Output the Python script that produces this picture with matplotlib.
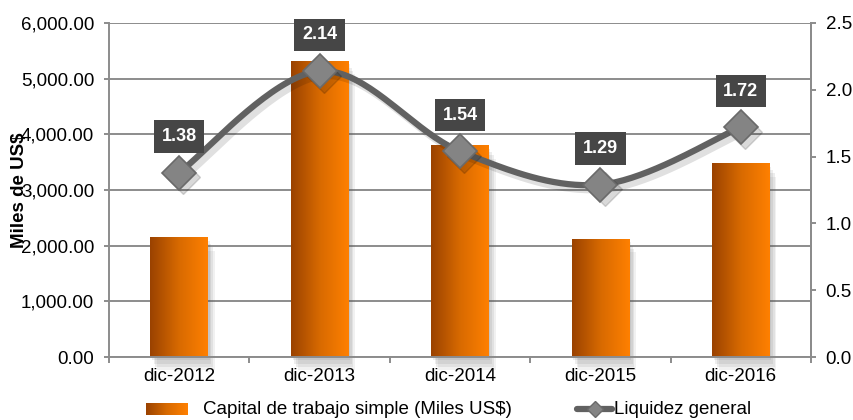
import numpy as np
import matplotlib
matplotlib.use("Agg")
import matplotlib.pyplot as plt
from matplotlib.patches import Rectangle
from matplotlib.lines import Line2D
from matplotlib.ticker import FuncFormatter, MultipleLocator
from matplotlib.colors import LinearSegmentedColormap

plt.rcParams['font.family'] = ['Liberation Sans', 'DejaVu Sans']

categories = ["dic-2012", "dic-2013", "dic-2014", "dic-2015", "dic-2016"]
capital = [2150, 5320, 3800, 2120, 3480]
liquidez = [1.38, 2.14, 1.54, 1.29, 1.72]
liq_labels = ["1.38", "2.14", "1.54", "1.29", "1.72"]

W, H = 854, 420
FS = 13.5
fig = plt.figure(figsize=(W / 100, H / 100), dpi=100)
ax = fig.add_axes([109 / W, 1 - 357 / H, (811 - 109) / W, (357 - 23) / H])
ax2 = ax.twinx()

x = np.arange(len(categories))
bw = 0.41
grid_c = "#8c8c8c"

ax.set_xlim(-0.5, len(categories) - 0.5)
ax.set_ylim(0, 6000)
ax.yaxis.set_major_locator(MultipleLocator(1000))
ax.yaxis.set_major_formatter(FuncFormatter(lambda v, p: f"{v:,.2f}"))
ax.set_xticks(x)
ax.set_xticklabels(categories)
ax.grid(axis='y', color=grid_c, linewidth=1.4)
ax.set_axisbelow(True)
ax.spines['top'].set_visible(False)
for s in ['left', 'bottom', 'right']:
    ax.spines[s].set_color(grid_c)
    ax.spines[s].set_linewidth(1.4)
ax.tick_params(axis='y', colors=grid_c, labelcolor='black', labelsize=FS, length=3.6, width=1.4, pad=7)
ax.tick_params(axis='x', length=0, labelsize=FS, pad=8)
ax.set_xticks(np.arange(-0.5, len(categories)), minor=True)
ax.tick_params(axis='x', which='minor', length=4, width=1.4, color=grid_c)

grad = np.linspace(0, 1, 256).reshape(1, -1)
cmap = LinearSegmentedColormap.from_list("og", ["#9a4200", "#d86a00", "#ff8000"])

for xi, v in zip(x, capital):
    for k, a in enumerate([0.10, 0.10, 0.10, 0.08]):
        off = (k + 1) * 0.012
        ax.add_patch(Rectangle((xi - bw / 2 + off, -60 * (k + 1)), bw, v, facecolor='#555555',
                               alpha=a, edgecolor='none', zorder=1, clip_on=False))
    rect = Rectangle((xi - bw / 2, 0), bw, v, facecolor='none', edgecolor='none', zorder=2)
    ax.add_patch(rect)
    im = ax.imshow(grad, cmap=cmap, aspect='auto', extent=(xi - bw / 2, xi + bw / 2, 0, v), zorder=2)
    im.set_clip_path(rect)
ax.set_xlim(-0.5, len(categories) - 0.5)
ax.set_ylim(0, 6000)

ax.set_ylabel("Miles de US$", fontsize=FS, fontweight='bold', labelpad=0)
ax.yaxis.set_label_coords(-0.115, 0.5)

ax2.set_ylim(0, 2.5)
ax2.yaxis.set_major_locator(MultipleLocator(0.5))
ax2.yaxis.set_major_formatter(FuncFormatter(lambda v, p: f"{v:.1f}"))
ax2.tick_params(axis='y', colors=grid_c, labelcolor='black', labelsize=FS, length=3.6, width=1.4, pad=7)
for s in ['top', 'left', 'bottom']:
    ax2.spines[s].set_visible(False)
ax2.spines['right'].set_color(grid_c)
ax2.spines['right'].set_linewidth(1.4)

# smooth curve (Bezier through data points)
px = x.astype(float)
py = np.array(liquidez, dtype=float)
P = np.column_stack([px, py])
Pext = np.vstack([P[0], P, P[-1]])
cx, cy = [], []
for i in range(1, len(Pext) - 2):
    p0, p1, p2, p3 = Pext[i - 1], Pext[i], Pext[i + 1], Pext[i + 2]
    c1 = p1 + (p2 - p0) / 6
    c2 = p2 - (p3 - p1) / 6
    t = np.linspace(0, 1, 40)[:, None]
    seg = (1 - t) ** 3 * p1 + 3 * (1 - t) ** 2 * t * c1 + 3 * (1 - t) * t ** 2 * c2 + t ** 3 * p2
    cx.extend(seg[:, 0]); cy.extend(seg[:, 1])
cx = np.array(cx); cy = np.array(cy)

ax2.plot(cx + 0.03, cy - 0.035, color='#000000', alpha=0.12, linewidth=5, zorder=3, solid_capstyle='round')
ax2.plot(cx, cy, color='#616161', linewidth=4.5, zorder=4, solid_capstyle='round')
ax2.plot(px + 0.03, py - 0.035, linestyle='none', marker='D', markersize=17, color='black', alpha=0.15, zorder=4)
ax2.plot(px, py, linestyle='none', marker='D', markersize=17, markerfacecolor='#848484',
         markeredgecolor='#6a6a6a', markeredgewidth=1.2, zorder=5)

for xi, yi, lab in zip(px, py, liq_labels):
    ax2.annotate(lab, (xi, yi), xytext=(0, 26), textcoords='offset points', ha='center', va='center',
                 fontsize=13, fontweight='bold', color='white', zorder=6,
                 bbox=dict(boxstyle='square,pad=0.42', facecolor='#464646', edgecolor='none'))

# legend (manual)
ly = 1 - 409 / H
lax = fig.add_axes([146 / W, ly - 6 / H, 42 / W, 12 / H])
lax.imshow(grad, cmap=cmap, aspect='auto', extent=(0, 1, 0, 1))
lax.set_axis_off()
fig.text(203 / W, ly, "Capital de trabajo simple (Miles US$)", fontsize=FS, va='center', ha='left')
fig.add_artist(Line2D([577 / W, 612 / W], [ly, ly], color='#616161', linewidth=4.5,
                      solid_capstyle='round', transform=fig.transFigure))
fig.add_artist(Line2D([595 / W], [ly], marker='D', markersize=8, markerfacecolor='#848484',
                      markeredgecolor='#6a6a6a', transform=fig.transFigure))
fig.text(614 / W, ly, "Liquidez general", fontsize=FS, va='center', ha='left')

fig.savefig("out.png", dpi=100)
